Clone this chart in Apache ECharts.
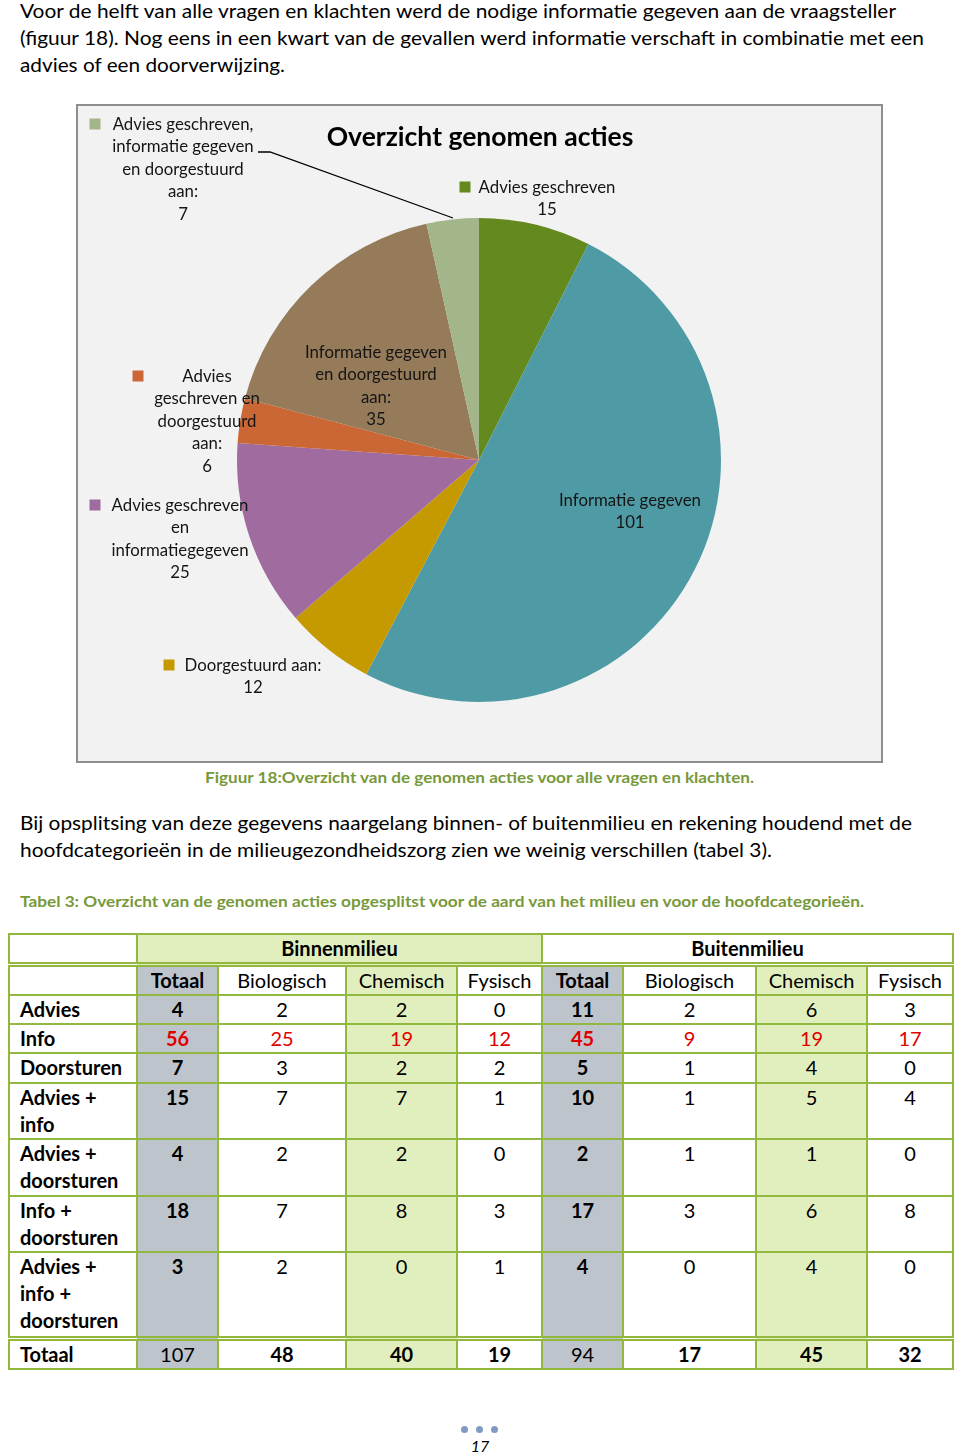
<!DOCTYPE html>
<html><head><meta charset="utf-8">
<script src="https://cdn.jsdelivr.net/npm/echarts@6/dist/echarts.min.js"></script>
<style>
html,body{margin:0;padding:0;background:#fff;}
body{width:960px;height:1454px;position:relative;overflow:hidden;font-family:Lato,"Open Sans",sans-serif;color:#000;}
.ln{position:absolute;white-space:nowrap;font-size:20px;line-height:26px;transform-origin:0 50%;}
.cap{font-weight:bold;color:#77993A;font-size:15px;line-height:20px;}
#box{position:absolute;left:76px;top:104px;width:807px;height:659px;box-sizing:border-box;border:2px solid #8E8E8E;background:#F2F2F2;}
#chart{position:absolute;left:0;top:0;width:960px;height:780px;z-index:2;}
table{position:absolute;left:8px;top:933px;border-collapse:collapse;table-layout:fixed;font-size:20px;}
td{border:2px solid #93B840;padding:0;vertical-align:top;line-height:27px;text-align:center;background:#fff;}
td.lbl{text-align:left;padding-left:10px;font-weight:bold;}
td.gray{background:#BEC4CC;}
td.green{background:#E1EFBF;}
td.b{font-weight:bold;}
td.red{color:#E00000;}
tr.h1 td{border-bottom:5px double #93B840;vertical-align:middle;font-weight:bold;}
tr.h2 td{vertical-align:middle;}
tr.tot td{border-top:5px double #93B840;vertical-align:middle;}
.dot{position:absolute;width:7px;height:7px;border-radius:50%;background:#7F9BC2;top:1426px;}
#pg{position:absolute;left:0;width:960px;text-align:center;top:1436px;font-size:16px;font-style:italic;line-height:20px;}
</style>
</head><body>
<div class="ln" style="left:20px;top:-3px" data-w="876">Voor de helft van alle vragen en klachten werd de nodige informatie gegeven aan de vraagsteller</div>
<div class="ln" style="left:20px;top:24px" data-w="904">(figuur 18). Nog eens in een kwart van de gevallen werd informatie verschaft in combinatie met een</div>
<div class="ln" style="left:20px;top:51px" data-w="265">advies of een doorverwijzing.</div>
<div id="box"></div>
<div id="chart"></div>
<div class="ln cap" style="left:205px;top:767px" data-w="549">Figuur 18:Overzicht van de genomen acties voor alle vragen en klachten.</div>
<div class="ln" style="left:20px;top:809px" data-w="892">Bij opsplitsing van deze gegevens naargelang binnen- of buitenmilieu en rekening houdend met de</div>
<div class="ln" style="left:20px;top:836px" data-w="752">hoofdcategorieën in de milieugezondheidszorg zien we weinig verschillen (tabel 3).</div>
<div class="ln cap" style="left:20px;top:891px" data-w="844">Tabel 3: Overzicht van de genomen acties opgesplitst voor de aard van het milieu en voor de hoofdcategorieën.</div>
<table id="tbl"></table>
<span class="dot" style="left:461px"></span><span class="dot" style="left:476px"></span><span class="dot" style="left:491px"></span>
<div id="pg">17</div>
<script>
// ---- pie data ----
const pieCategories = ['Advies geschreven', 'Informatie gegeven', 'Doorgestuurd aan:', 'Advies geschreven en informatiegegeven', 'Advies geschreven en doorgestuurd aan:', 'Informatie gegeven en doorgestuurd aan:', 'Advies geschreven, informatie gegeven en doorgestuurd aan:'];
const pieLabelTexts = ['Advies geschreven', 'Informatie gegeven', 'Doorgestuurd aan:', 'Advies geschreven\nen\ninformatiegegeven', 'Advies\ngeschreven en\ndoorgestuurd\naan:', 'Informatie gegeven\nen doorgestuurd\naan:', 'Advies geschreven,\ninformatie gegeven\nen doorgestuurd\naan:'];
const pieValues = [15, 101, 12, 25, 6, 35, 7];
const pieTitle = 'Overzicht genomen acties';

// ---- table data ----
const tableGroups = ['Binnenmilieu', 'Buitenmilieu'];
const tableColumns = ['Totaal', 'Biologisch', 'Chemisch', 'Fysisch'];
const tableRows = ['Advies', 'Info', 'Doorsturen', 'Advies +\ninfo', 'Advies +\ndoorsturen', 'Info +\ndoorsturen', 'Advies +\ninfo +\ndoorsturen'];
const binnenValues = [[4,2,2,0],[56,25,19,12],[7,3,2,2],[15,7,7,1],[4,2,2,0],[18,7,8,3],[3,2,0,1]];
const buitenValues = [[11,2,6,3],[45,9,19,17],[5,1,4,0],[10,1,5,4],[2,1,1,0],[17,3,6,8],[4,0,4,0]];
const totalLabel = 'Totaal';
const binnenTotals = [107, 48, 40, 19];
const buitenTotals = [94, 17, 45, 32];

// ---- styling / layout ----
const FONT = 'Lato';
const colors = ['#64891E', '#4F9BA5', '#C49A00', '#A06B9E', '#CB6734', '#957B59', '#A3B68A'];
const labelPos = [[547,176],[630,489],[253,654],[180,494],[207,365],[376,341],[183,113]];
const keyPos = [[465,187],null,[169,665],[95,505],[138,376],null,[95,124]];

const chart = echarts.init(document.getElementById('chart'), null, {renderer:'canvas'});
chart.setOption({
  animation: false,
  title: {text: pieTitle, left: 'center', top: 119, textStyle: {fontFamily: FONT, fontSize: 26.5, fontWeight: 'bold', color: '#000'}},
  series: [
    {
      type: 'pie', center: [479, 460], radius: 242, startAngle: 90, clockwise: true, silent: true,
      avoidLabelOverlap: false,
      data: pieValues.map((v, i) => ({name: pieCategories[i], value: v, itemStyle: {color: colors[i]},
        labelLine: {show: i === 6, lineStyle: {color: '#000', width: 1.3}}})),
      label: {show: true, position: 'outside', formatter: p => pieLabelTexts[p.dataIndex] + '\n' + p.value,
        fontFamily: FONT, fontSize: 16.8, lineHeight: 22.5, color: '#141414', align: 'center'},
      labelLine: {show: false, length: 5, length2: 5},
      labelLayout: p => {
        const i = p.dataIndex;
        const o = {x: labelPos[i][0], y: labelPos[i][1], align: 'center', verticalAlign: 'top'};
        if (i === 6) o.labelLinePoints = [[453,218],[270,152],[258,152]];
        return o;
      },
      emphasis: {disabled: true}
    },
    {
      type: 'pie', center: [479, 460], radius: 242, startAngle: 90, clockwise: true, silent: true, z: 3,
      avoidLabelOverlap: false,
      itemStyle: {color: 'rgba(0,0,0,0)'},
      data: pieValues.map((v, i) => ({name: pieCategories[i], value: v,
        label: {show: keyPos[i] !== null, formatter: '{k| }', rich: {k: {width: 11, height: 11, backgroundColor: colors[i]}}}})),
      label: {position: 'outside'},
      labelLine: {show: false},
      labelLayout: p => keyPos[p.dataIndex] ? {x: keyPos[p.dataIndex][0], y: keyPos[p.dataIndex][1], align: 'center', verticalAlign: 'middle'} : {},
      emphasis: {disabled: true}
    }
  ]
});

// ---- table build ----
const colWidths = [128, 81, 128, 111, 85, 81, 133, 111, 86];
const rowHeights = [30, 28, 29, 29, 30, 56, 57, 56, 86, 30];
const colClass = ['', 'gray', '', 'green', '', 'gray', '', 'green', ''];
const tbl = document.getElementById('tbl');
const cg = document.createElement('colgroup');
colWidths.forEach(w => { const c = document.createElement('col'); c.style.width = w + 'px'; cg.appendChild(c); });
tbl.appendChild(cg);
function addRow(cls, h) { const tr = tbl.insertRow(); if (cls) tr.className = cls; tr.style.height = h + 'px'; return tr; }
function addCell(tr, html, cls, span) { const td = tr.insertCell(); td.innerHTML = html; if (cls) td.className = cls; if (span) td.colSpan = span; return td; }
let r = addRow('h1', rowHeights[0]);
addCell(r, '', '');
addCell(r, tableGroups[0], 'green', 4);
addCell(r, tableGroups[1], '', 4);
r = addRow('h2', rowHeights[1]);
addCell(r, '', '');
for (let g = 0; g < 2; g++) tableColumns.forEach((c, j) => addCell(r, c, colClass[1 + g*4 + j] + (j === 0 ? ' b' : '')));
tableRows.forEach((name, i) => {
  const tr = addRow('', rowHeights[2 + i]);
  addCell(tr, name.replace(/\n/g, '<br>'), 'lbl');
  [binnenValues[i], buitenValues[i]].forEach((vals, g) => vals.forEach((v, j) => {
    addCell(tr, String(v), colClass[1 + g*4 + j] + (j === 0 ? ' b' : '') + (i === 1 ? ' red' : ''));
  }));
});
r = addRow('tot', rowHeights[9]);
addCell(r, totalLabel, 'lbl');
[binnenTotals, buitenTotals].forEach((vals, g) => vals.forEach((v, j) => addCell(r, String(v), colClass[1 + g*4 + j] + (j === 0 ? '' : ' b'))));

// ---- fit text lines to reference widths ----
function fitLines() {
  document.querySelectorAll('[data-w]').forEach(el => {
    el.style.transform = 'none';
    const w = el.getBoundingClientRect().width;
    if (w > 0) el.style.transform = 'scaleX(' + (+el.dataset.w / w) + ')';
  });
}
fitLines();
if (document.fonts && document.fonts.ready) document.fonts.ready.then(() => { fitLines(); chart.resize(); });
</script>
</body></html>
